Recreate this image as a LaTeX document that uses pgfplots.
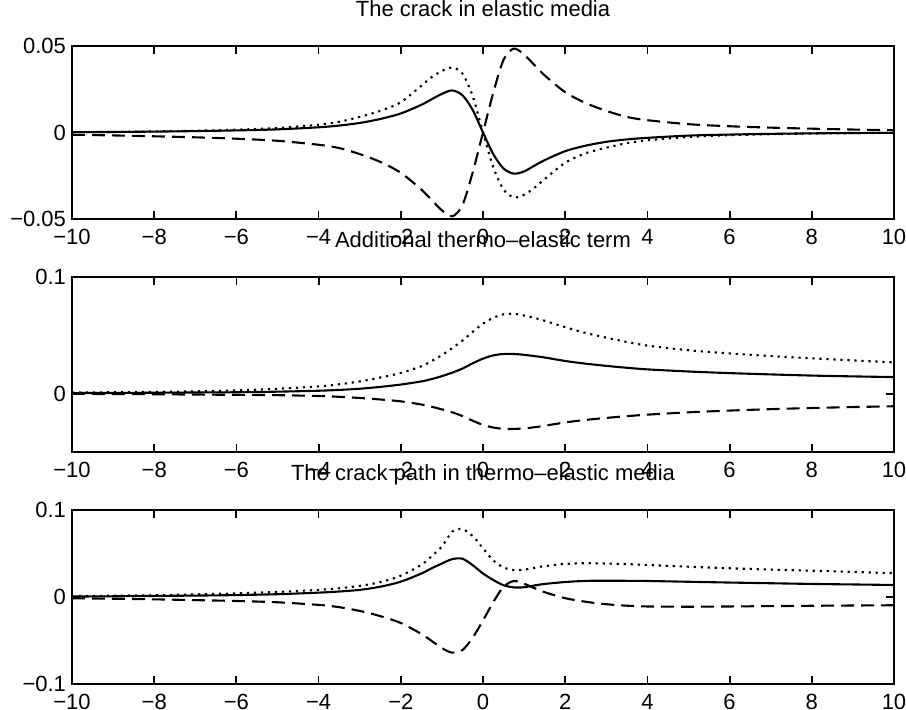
\documentclass[border=0pt]{standalone}
\usepackage{pgfplots}
\pgfplotsset{compat=1.18}
\usepackage{pgfplotstable}
\usepackage{fontspec}
\setmainfont{Liberation Sans}

% x, solid, dotted, dashed
\pgfplotstableread{
x      s        d        ds
-10    0.0002   0.0002  -0.0013
-9     0.0003   0.0003  -0.0017
-8     0.0005   0.0006  -0.0022
-7     0.0008   0.0010  -0.0028
-6     0.0012   0.0016  -0.0036
-5     0.0018   0.0026  -0.0048
-4     0.0030   0.0045  -0.0071
-3.5   0.0040   0.0062  -0.0090
-3     0.0055   0.0090  -0.0125
-2.5   0.0078   0.0125  -0.0170
-2     0.0110   0.0175  -0.0233
-1.5   0.0160   0.0270  -0.0330
-1.25  0.0192   0.0320  -0.0390
-1     0.0223   0.0355  -0.0450
-0.75  0.0243   0.0375  -0.0485
-0.5   0.0215   0.0340  -0.0420
-0.25  0.0130   0.0210  -0.0230
0      0.0      0.0      0.0
0.25  -0.0125  -0.0200   0.0230
0.5   -0.0208  -0.0330   0.0420
0.75  -0.0238  -0.0375   0.0485
1     -0.0225  -0.0360   0.0450
1.25  -0.0192  -0.0320   0.0390
1.5   -0.0160  -0.0270   0.0330
2     -0.0108  -0.0175   0.0233
2.5   -0.0076  -0.0120   0.0170
3     -0.0054  -0.0088   0.0125
3.5   -0.0040  -0.0062   0.0090
4     -0.0031  -0.0045   0.0071
5     -0.0018  -0.0026   0.0048
6     -0.0012  -0.0016   0.0036
7     -0.0008  -0.0010   0.0028
8     -0.0005  -0.0006   0.0022
9     -0.0003  -0.0004   0.0017
10    -0.0002  -0.0002   0.0013
}\tabtop

\pgfplotstableread{
x      s        d        ds
-10    0.0005   0.0010  -0.0002
-9     0.0006   0.0012  -0.0003
-8     0.0008   0.0015  -0.0005
-7     0.0010   0.0020  -0.0008
-6     0.0012   0.0028  -0.0010
-5     0.0017   0.0042  -0.0013
-4     0.0025   0.0062  -0.0020
-3.5   0.0032   0.0080  -0.0027
-3     0.0042   0.0105  -0.0037
-2.5   0.0058   0.0138  -0.0050
-2     0.0078   0.0177  -0.0066
-1.5   0.0105   0.0235  -0.0093
-1.25  0.0125   0.0280  -0.0112
-1     0.0150   0.0330  -0.0135
-0.75  0.0180   0.0390  -0.0160
-0.5   0.0215   0.0455  -0.0192
-0.25  0.0260   0.0530  -0.0232
0      0.0300   0.0600  -0.0268
0.25   0.0328   0.0650  -0.0290
0.5    0.0340   0.0680  -0.0302
0.75   0.0340   0.0684  -0.0302
1      0.0333   0.0670  -0.0298
1.25   0.0322   0.0650  -0.0288
1.5    0.0310   0.0625  -0.0275
2      0.0280   0.0570  -0.0247
2.5    0.0257   0.0520  -0.0225
3      0.0238   0.0480  -0.0208
3.5    0.0222   0.0443  -0.0193
4      0.0208   0.0412  -0.0180
5      0.0190   0.0372  -0.0160
6      0.0176   0.0345  -0.0145
7      0.0165   0.0322  -0.0133
8      0.0155   0.0303  -0.0123
9      0.0148   0.0285  -0.0115
10     0.0142   0.0268  -0.0108
}\tabmid

\pgfplotstableread{
x      s        d        ds
-10    0.0005   0.0010  -0.0015
-9     0.0008   0.0015  -0.0020
-8     0.0012   0.0020  -0.0027
-7     0.0016   0.0030  -0.0036
-6     0.0022   0.0042  -0.0046
-5     0.0032   0.0058  -0.0061
-4     0.0050   0.0082  -0.0091
-3.5   0.0063   0.0100  -0.0117
-3     0.0082   0.0128  -0.0160
-2.5   0.0118   0.0170  -0.0220
-2     0.0176   0.0245  -0.0299
-1.5   0.0270   0.0370  -0.0425
-1.25  0.0330   0.0470  -0.0505
-1     0.0385   0.0580  -0.0587
-0.75  0.0435   0.0750  -0.0640
-0.5   0.0440   0.0780  -0.0610
-0.25  0.0365   0.0700  -0.0467
0      0.0270   0.0560  -0.0270
0.25   0.0195   0.0420  -0.0060
0.5    0.0135   0.0340   0.0118
0.75   0.0110   0.0310   0.0183
1      0.0112   0.0315   0.0152
1.25   0.0132   0.0335   0.0102
1.5    0.0150   0.0355   0.0055
2      0.0172   0.0380  -0.0014
2.5    0.0185   0.0388  -0.0055
3      0.0187   0.0385  -0.0083
3.5    0.0186   0.0378  -0.0100
4      0.0184   0.0368  -0.0109
5      0.0175   0.0348  -0.0112
6      0.0166   0.0330  -0.0109
7      0.0158   0.0315  -0.0105
8      0.0150   0.0302  -0.0101
9      0.0144   0.0288  -0.0098
10     0.0138   0.0272  -0.0095
}\tabbot

\pgfplotsset{
  panel/.style={
    scale only axis,
    width=411pt,
    xmin=-10, xmax=10,
    scaled y ticks=false, scaled x ticks=false,
    xtick={-10,-8,-6,-4,-2,0,2,4,6,8,10},
    xticklabels={−10,−8,−6,−4,−2,0,2,4,6,8,10},
    xtick pos=both, ytick pos=both,
    xticklabel pos=lower, yticklabel pos=left,
    tick align=inside,
    major tick length=4pt,
    axis line style={line width=0.9pt, black},
    every tick/.append style={line width=0.9pt, black},
    tick label style={font=\fontsize{11}{13}\selectfont},
    xticklabel style={yshift=-1.5pt},
    yticklabel style={xshift=0.5pt},
    title style={at={(axis description cs:0.5,1)}, anchor=base, yshift=8.5pt, font=\fontsize{11}{13}\selectfont, inner sep=0pt},
    every axis plot/.append style={no markers, smooth, tension=0.5, black, line width=1.05pt},
  },
  sol/.style={solid},
  dot/.style={dash pattern=on 1.1pt off 2.4pt},
  dsh/.style={dash pattern=on 6.5pt off 3.5pt},
}

\begin{document}
\begin{tikzpicture}
\path[use as bounding box] (0,0) rectangle (453pt,355pt);

\begin{axis}[panel, at={(36pt,245.5pt)}, anchor=south west, height=86.5pt,
  ymin=-0.05, ymax=0.05, ytick={-0.05,0,0.05}, yticklabels={−0.05,0,0.05},
  title={The crack in elastic media}]
  \addplot[sol] table[x=x,y=s] {\tabtop};
  \addplot[dot] table[x=x,y=d] {\tabtop};
  \addplot[dsh] table[x=x,y=ds] {\tabtop};
\end{axis}

\begin{axis}[panel, at={(36pt,129pt)}, anchor=south west, height=87.5pt,
  ymin=-0.05, ymax=0.1, ytick={0,0.1}, yticklabels={0,0.1},
  title={Additional thermo–elastic term}]
  \addplot[sol] table[x=x,y=s] {\tabmid};
  \addplot[dot] table[x=x,y=d] {\tabmid};
  \addplot[dsh] table[x=x,y=ds] {\tabmid};
\end{axis}

\begin{axis}[panel, at={(36pt,13pt)}, anchor=south west, height=87pt,
  ymin=-0.1, ymax=0.1, ytick={-0.1,0,0.1}, yticklabels={−0.1,0,0.1},
  title={The crack path in thermo–elastic media}]
  \addplot[sol] table[x=x,y=s] {\tabbot};
  \addplot[dot] table[x=x,y=d] {\tabbot};
  \addplot[dsh] table[x=x,y=ds] {\tabbot};
\end{axis}
\end{tikzpicture}
\end{document}
